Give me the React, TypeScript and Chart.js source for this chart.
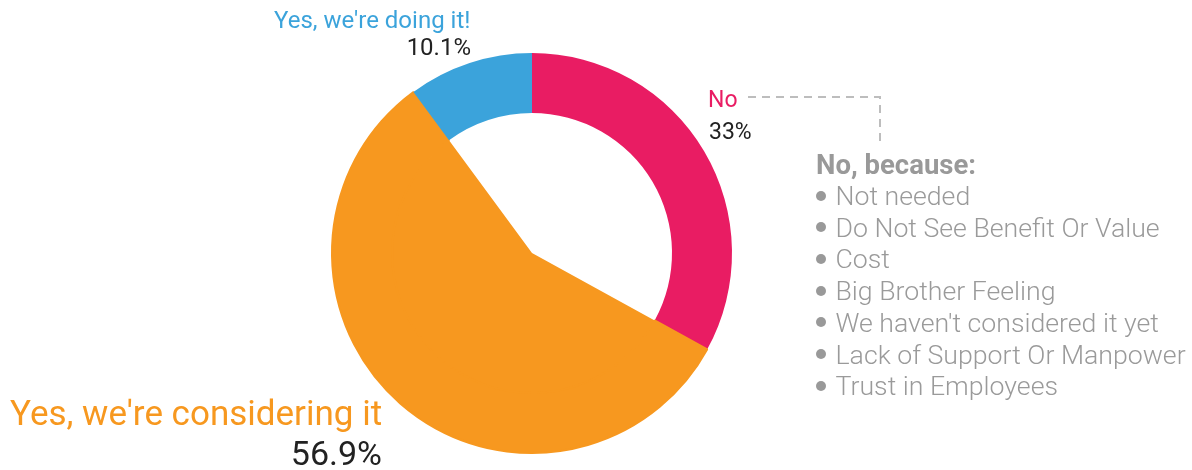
import React, { useEffect, useRef } from "react";
import { Chart, registerables } from "chart.js";

Chart.register(...registerables);

const categories = ["No", "Yes, we're considering it", "Yes, we're doing it!"];
const shares = [33, 56.9, 10.1];
const shareLabels = ["33%", "56.9%", "10.1%"];
const sliceColors = ["#E91C63", "#F7981F", "#3BA3DB"];
const reasonsTitle = "No, because:";
const reasons = [
  "Not needed",
  "Do Not See Benefit Or Value",
  "Cost",
  "Big Brother Feeling",
  "We haven't considered it yet",
  "Lack of Support Or Manpower",
  "Trust in Employees",
];

const W = 1192;
const H = 470;
const FONT = "Roboto, 'Noto Sans', sans-serif";

type TextProps = {
  x: number;
  baseline: number;
  size: number;
  color: string;
  weight?: number;
  align?: "left" | "right";
  children: React.ReactNode;
};

function Txt({ x, baseline, size, color, weight = 400, align = "left", children }: TextProps) {
  const top = baseline - 0.842 * size;
  const style: React.CSSProperties = {
    position: "absolute",
    top,
    fontFamily: FONT,
    fontSize: size,
    lineHeight: `${size}px`,
    color,
    fontWeight: weight,
    whiteSpace: "nowrap",
  };
  if (align === "left") style.left = x;
  else {
    style.right = W - x;
    style.textAlign = "right";
  }
  return <div style={style}>{children}</div>;
}

const connectorPlugin = {
  id: "connector",
  afterDraw(chart: any) {
    const ctx = chart.ctx;
    ctx.save();
    ctx.strokeStyle = "#BDBDBD";
    ctx.lineWidth = 2;
    ctx.setLineDash([8, 6]);
    ctx.beginPath();
    ctx.moveTo(748, 97);
    ctx.lineTo(880, 97);
    ctx.lineTo(880, 141);
    ctx.stroke();
    ctx.restore();
  },
};

export default function App() {
  const ref = useRef<HTMLCanvasElement>(null);

  useEffect(() => {
    if (!ref.current) return;
    const chart = new Chart(ref.current, {
      type: "doughnut",
      data: {
        labels: categories,
        datasets: [
          {
            data: shares,
            backgroundColor: sliceColors,
            borderColor: ["rgba(0,0,0,0)", sliceColors[1], "rgba(0,0,0,0)"],
            borderWidth: [0, 2, 0],
            weight: 60,
          } as any,
          {
            data: shares,
            backgroundColor: ["rgba(0,0,0,0)", sliceColors[1], "rgba(0,0,0,0)"],
            borderWidth: 0,
            weight: 140,
          } as any,
        ],
      },
      options: {
        responsive: false,
        animation: false,
        cutout: 0,
        events: [],
        layout: { padding: { left: 331, right: 459, top: 52, bottom: 16 } },
        plugins: {
          legend: { display: false },
          tooltip: { enabled: false },
        },
        elements: { arc: { hoverOffset: 0, offset: 0 } as any },
      },
      plugins: [connectorPlugin],
    });
    return () => chart.destroy();
  }, []);

  const listStart = 205.5;
  const listStep = 31.7;

  return (
    <div style={{ position: "absolute", left: 0, top: 0, width: W, height: H, background: "#fff", overflow: "hidden" }}>
      <canvas ref={ref} width={W} height={H} style={{ position: "absolute", left: 0, top: 0, width: W, height: H }} />
      <Txt x={274} baseline={28} size={24} color={sliceColors[2]}>{categories[2]}</Txt>
      <Txt x={471} baseline={55} size={24} color="#222" align="right">{shareLabels[2]}</Txt>
      <Txt x={708} baseline={107} size={23} color={sliceColors[0]}>{categories[0]}</Txt>
      <Txt x={709} baseline={139} size={23} color="#222">{shareLabels[0]}</Txt>
      <Txt x={10} baseline={425} size={35} color={sliceColors[1]}>{categories[1]}</Txt>
      <Txt x={382} baseline={465} size={34} color="#222" align="right">{shareLabels[1]}</Txt>
      <Txt x={816} baseline={174} size={27.5} color="#999" weight={700}>{reasonsTitle}</Txt>
      {reasons.map((r, i) => {
        const b = listStart + i * listStep;
        return (
          <React.Fragment key={r}>
            <div
              style={{
                position: "absolute",
                left: 816,
                top: b - 10 - 5,
                width: 10,
                height: 10,
                borderRadius: "50%",
                background: "#999",
              }}
            />
            <Txt x={835.5} baseline={b} size={26.7} color="#9a9a9a" weight={300}>{r}</Txt>
          </React.Fragment>
        );
      })}
    </div>
  );
}
